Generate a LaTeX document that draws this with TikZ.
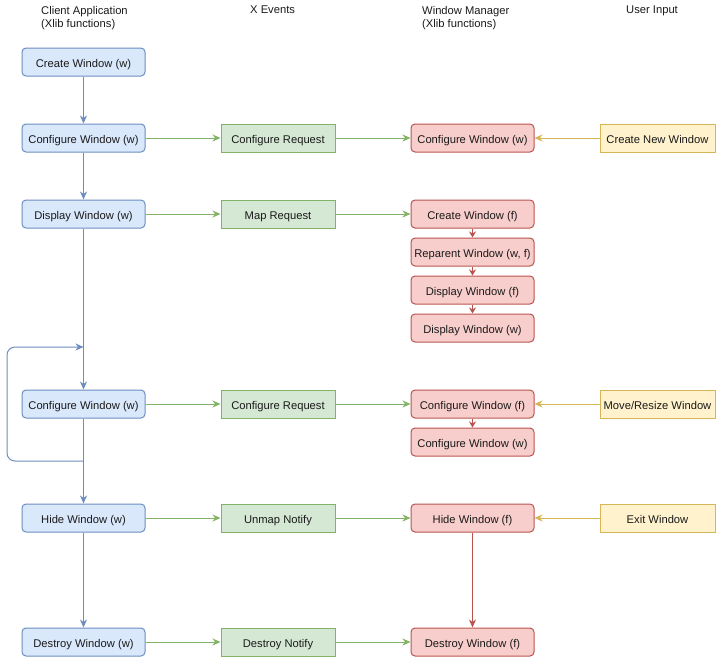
\documentclass[tikz,border=0pt]{standalone}
\usepackage{fontspec}
\setmainfont{Liberation Sans}
\usetikzlibrary{arrows.meta}
\definecolor{bluefill}{HTML}{DAE8FC}\definecolor{blueline}{HTML}{6C8EBF}
\definecolor{greenfill}{HTML}{D5E8D4}\definecolor{greenline}{HTML}{82B366}
\definecolor{redfill}{HTML}{F8CECC}\definecolor{redline}{HTML}{B85450}
\definecolor{yellowfill}{HTML}{FFF2CC}\definecolor{yellowline}{HTML}{D6B656}
\definecolor{ink}{HTML}{1A1A1A}
\begin{document}
\begin{tikzpicture}[x=1pt,y=-1pt,
  font=\fontsize{11.2}{13.5}\selectfont, text=ink,
  box/.style={draw, line width=1pt, inner sep=0pt, minimum height=28pt, align=center,
    text height=11pt, text depth=0.5pt},
  clientbox/.style={box, fill=bluefill, draw=blueline, rounded corners=4pt, minimum width=123pt},
  eventbox/.style={box, fill=greenfill, draw=greenline, minimum width=114pt},
  wmbox/.style={box, fill=redfill, draw=redline, rounded corners=4pt, minimum width=123pt},
  inputbox/.style={box, fill=yellowfill, draw=yellowline, minimum width=115pt},
  header/.style={anchor=north west, inner sep=0pt, align=left},
  tip/.style={-{Stealth[length=8pt,width=7pt,inset=2.5pt]}},
  smalltip/.style={-{Stealth[length=6pt,width=7pt,inset=1.8pt]}},
  bluearrow/.style={tip, draw=blueline, line width=1pt},
  greenarrow/.style={tip, draw=greenline, line width=1pt},
  redarrow/.style={tip, draw=redline, line width=1pt},
  redshort/.style={smalltip, draw=redline, line width=1pt},
  yellowarrow/.style={tip, draw=yellowline, line width=1pt}]
\useasboundingbox (0,0) rectangle (716,657);

% column headings
\node[header] (hClient) at (41,6) {Client Application\\(Xlib functions)};
\node[header] (hEvents) at (250,6) {X Events};
\node[header] (hWM) at (422,6) {Window Manager\\(Xlib functions)};
\node[header] (hInput) at (626,6) {User Input};

% client application
\node[clientbox] (cCreate) at (83.5,62) {Create Window (w)};
\node[clientbox] (cConf1) at (83.5,138) {Configure Window (w)};
\node[clientbox] (cDisp) at (83.5,214) {Display Window (w)};
\node[clientbox] (cConf2) at (83.5,404) {Configure Window (w)};
\node[clientbox] (cHide) at (83.5,518) {Hide Window (w)};
\node[clientbox] (cDestroy) at (83.5,642) {Destroy Window (w)};

% X events
\node[eventbox] (eConf1) at (278,138) {Configure Request};
\node[eventbox] (eMap) at (278,214) {Map Request};
\node[eventbox] (eConf2) at (278,404) {Configure Request};
\node[eventbox] (eUnmap) at (278,518) {Unmap Notify};
\node[eventbox] (eDestroy) at (278,642) {Destroy Notify};

% window manager
\node[wmbox] (wConf1) at (472.5,138) {Configure Window (w)};
\node[wmbox] (wCreate) at (472.5,214) {Create Window (f)};
\node[wmbox] (wReparent) at (472.5,252) {Reparent Window (w, f)};
\node[wmbox] (wDispF) at (472.5,290) {Display Window (f)};
\node[wmbox] (wDispW) at (472.5,328) {Display Window (w)};
\node[wmbox] (wConfF) at (472.5,404) {Configure Window (f)};
\node[wmbox] (wConfW) at (472.5,442) {Configure Window (w)};
\node[wmbox] (wHide) at (472.5,518) {Hide Window (f)};
\node[wmbox] (wDestroy) at (472.5,642) {Destroy Window (f)};

% user input
\node[inputbox] (uNew) at (657.5,138) {Create New Window};
\node[inputbox] (uMove) at (657.5,404) {Move/Resize Window};
\node[inputbox] (uExit) at (657.5,518) {Exit Window};

% client call sequence
\draw[bluearrow] (cCreate) -- (cConf1);
\draw[bluearrow] (cConf1) -- (cDisp);
\draw[bluearrow] (cDisp) -- (cConf2);
\draw[bluearrow] (cConf2) -- (cHide);
\draw[bluearrow] (cHide) -- (cDestroy);

% repeated reconfiguration loop
\coordinate (loopOut) at (83.5,461);
\coordinate (loopIn) at (83.5,347);
\draw[bluearrow, rounded corners=8pt] (loopOut) -- (7,461) -- (7,347) -- (loopIn);

% requests and notifications
\draw[greenarrow] (cConf1) -- (eConf1);
\draw[greenarrow] (eConf1) -- (wConf1);
\draw[greenarrow] (cDisp) -- (eMap);
\draw[greenarrow] (eMap) -- (wCreate);
\draw[greenarrow] (cConf2) -- (eConf2);
\draw[greenarrow] (eConf2) -- (wConfF);
\draw[greenarrow] (cHide) -- (eUnmap);
\draw[greenarrow] (eUnmap) -- (wHide);
\draw[greenarrow] (cDestroy) -- (eDestroy);
\draw[greenarrow] (eDestroy) -- (wDestroy);

% window manager sequence
\draw[redshort] (wCreate) -- (wReparent);
\draw[redshort] (wReparent) -- (wDispF);
\draw[redshort] (wDispF) -- (wDispW);
\draw[redshort] (wConfF) -- (wConfW);
\draw[redarrow] (wHide) -- (wDestroy);

% user actions
\draw[yellowarrow] (uNew) -- (wConf1);
\draw[yellowarrow] (uMove) -- (wConfF);
\draw[yellowarrow] (uExit) -- (wHide);
\end{tikzpicture}
\end{document}
